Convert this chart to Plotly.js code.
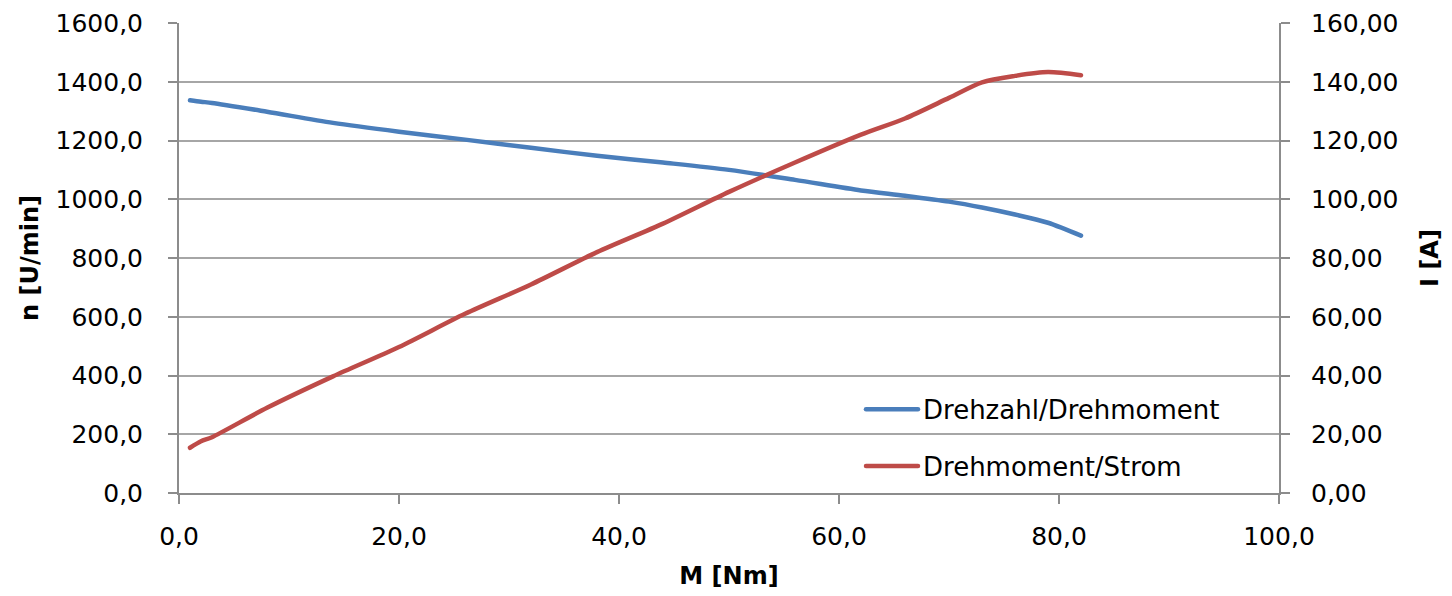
<!DOCTYPE html>
<html>
<head>
<meta charset="utf-8">
<script src="https://cdn.plot.ly/plotly-3.0.1.min.js"></script>
<style>
html,body{margin:0;padding:0;background:#fff;}
#chart{width:1452px;height:596px;}
.js-line{stroke-linecap:round;stroke-linejoin:round;}
</style>
</head>
<body>
<div id="chart"></div>
<script>
// Torque M [Nm]
const torque = [1.0, 2.0, 3.0, 8.0, 14.0, 20.0, 26.0, 32.0, 38.0, 44.0, 50.0, 56.0, 62.0, 66.0, 70.0, 73.0, 76.0, 79.0, 82.0];
// Speed n [U/min]
const speed = [1337, 1332, 1328, 1298, 1260, 1230, 1203, 1175, 1148, 1125, 1100, 1066, 1030, 1012, 992, 972, 948, 920, 876];
// Current I [A]
const current = [15.4, 17.6, 19.0, 29.0, 39.7, 49.7, 61.0, 71.0, 82.0, 91.7, 102.5, 112.5, 122.0, 127.5, 134.5, 139.8, 142.0, 143.3, 142.2];

const seriesNames = ['Drehzahl/Drehmoment', 'Drehmoment/Strom'];
const seriesColors = ['#4A7EBB', '#BE4B48'];

const font = 'DejaVu Sans, Verdana, sans-serif';

const traces = [
  {x: torque, y: speed, name: seriesNames[0], type: 'scatter', mode: 'lines',
   line: {color: seriesColors[0], width: 4.5, shape: 'spline', smoothing: 0.8},
   legendgroup: 'a', yaxis: 'y'},
  {x: torque, y: current, name: seriesNames[1], type: 'scatter', mode: 'lines',
   line: {color: seriesColors[1], width: 4.5, shape: 'spline', smoothing: 0.8},
   legendgroup: 'b', yaxis: 'y2'}
];

const layout = {
  width: 1452, height: 596,
  margin: {l: 179, r: 173, t: 23, b: 103, pad: 0},
  paper_bgcolor: '#fff', plot_bgcolor: '#fff',
  separators: ',.',
  font: {family: font, size: 25, color: '#000'},
  showlegend: true,
  legend: {x: 0.62, y: 0.228, xanchor: 'left', yanchor: 'top',
           bgcolor: 'rgba(255,255,255,0)', font: {family: font, size: 26, color: '#000'},
           tracegroupgap: 20, itemwidth: 52},
  xaxis: {range: [0, 100], dtick: 20, tick0: 0, tickformat: '.1f',
          showgrid: false, zeroline: false, showline: true, linecolor: '#8c8c8c', linewidth: 2,
          ticks: 'outside', ticklen: 9, tickwidth: 2, tickcolor: '#8c8c8c',
          ticklabelstandoff: 11,
          tickfont: {family: font, size: 25},
          title: {text: 'M [Nm]', font: {family: font, size: 24, weight: 'bold'}, standoff: 17},
          fixedrange: true},
  yaxis: {range: [0, 1600], dtick: 200, tick0: 0, tickformat: '.1f',
          showgrid: true, gridcolor: '#a6a6a6', gridwidth: 2, zeroline: false,
          showline: true, linecolor: '#8c8c8c', linewidth: 2,
          ticks: 'outside', ticklen: 9, tickwidth: 2, tickcolor: '#8c8c8c',
          ticklabelstandoff: 20,
          tickfont: {family: font, size: 25},
          title: {text: 'n [U/min]', font: {family: font, size: 24, weight: 'bold'}, standoff: 10},
          fixedrange: true},
  yaxis2: {range: [0, 160], dtick: 20, tick0: 0, tickformat: '.2f',
           overlaying: 'y', side: 'right', showgrid: false, zeroline: false,
           showline: true, linecolor: '#8c8c8c', linewidth: 2,
           ticks: 'outside', ticklen: 9, tickwidth: 2, tickcolor: '#8c8c8c',
           ticklabelstandoff: 16,
           tickfont: {family: font, size: 25},
           title: {text: 'I [A]', font: {family: font, size: 24, weight: 'bold'}, standoff: 24},
           fixedrange: true}
};

Plotly.newPlot('chart', traces, layout, {displayModeBar: false, staticPlot: true});
</script>
</body>
</html>
